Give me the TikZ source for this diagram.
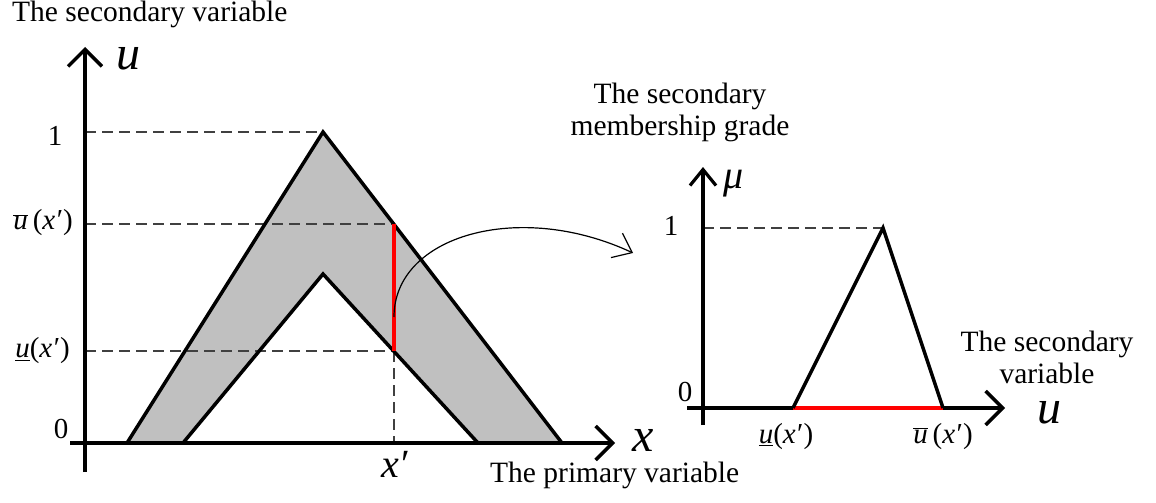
\documentclass[tikz,border=0pt]{standalone}
\usepackage{fontspec}
\setmainfont{Liberation Serif}[ItalicFont={Liberation Serif Italic}]
\usetikzlibrary{arrows.meta}
\definecolor{bandgray}{RGB}{192,192,192}
\definecolor{guidegray}{RGB}{64,64,64}
\definecolor{redline}{RGB}{255,0,0}
\newcommand{\uup}{$\overline{\mbox{\itshape u}}$}
\newcommand{\ulow}{\underline{\itshape u}}
\newcommand{\xp}{{\itshape x}\kern0.05em\char"2032}
\tikzset{
  axis/.style={line width=3.5pt, -{Straight Barb[length=17pt,width=34pt]}},
  smallaxis/.style={line width=3.2pt, -{Straight Barb[length=16pt,width=26pt]}},
  edge/.style={line width=3.5pt, line join=miter},
  redseg/.style={line width=3.5pt, draw=redline},
  guide/.style={line width=1.3pt, dash pattern=on 11pt off 6pt, draw=guidegray},
  curvearrow/.style={line width=1.2pt, -{Straight Barb[length=17pt,width=27pt]}},
  lbl/.style={inner sep=0pt, font=\fontsize{29.5}{32}\selectfont},
  tick/.style={inner sep=0pt, font=\fontsize{29}{32}\selectfont},
  var/.style={inner sep=0pt, font=\fontsize{48}{52}\selectfont\itshape},
  xlbl/.style={inner sep=0pt, font=\fontsize{40}{44}\selectfont},
  mulbl/.style={inner sep=0pt, font=\fontsize{40}{44}\selectfont\itshape}
}
\begin{document}
\begin{tikzpicture}[x=1pt,y=-1pt]
\useasboundingbox (0,0) rectangle (1156,503);
% ---- left plot coordinates
\coordinate (ytop) at (85,47);
\coordinate (ybot) at (85,472);
\coordinate (xl) at (70,443);
\coordinate (xr) at (615,443);
\coordinate (A) at (127,443);
\coordinate (P) at (323,132);
\coordinate (B) at (562,443);
\coordinate (C) at (478,443);
\coordinate (Q) at (323,274);
\coordinate (D) at (183,443);
\coordinate (U) at (394,224);
\coordinate (L) at (394,351);
\coordinate (X) at (394,443);
\coordinate (S) at (394,317);
\coordinate (T) at (633,253);
\coordinate (y1) at (85,132);
\coordinate (yU) at (85,224);
\coordinate (yL) at (85,351);
% band
\fill[fill=bandgray] (A)--(P)--(B)--(C)--(Q)--(D)--cycle;
\draw[guide] (y1)--(P);
\draw[guide] (yU)--(U);
\draw[guide] (yL)--(L);
\draw[guide] (L)--(X);
\draw[edge] (A)--(P)--(B);
\draw[edge] (D)--(Q)--(C);
\draw[redseg] (U)--(L);
\draw[axis] (ybot)--(ytop);
\draw[axis] (xl)--(xr);
\draw[curvearrow] (S) .. controls (394,235) and (520,200) .. (T);
% ---- left labels
\node[lbl, anchor=base west] (t1) at (12,22) {The secondary variable};
\node[var, anchor=base west] (lu) at (116,70) {u};
\node[var, anchor=base west] (lx) at (632,451) {x};
\node[tick, anchor=base] (l1) at (55,145) {1};
\node[tick, anchor=base] (l0) at (61,438) {0};
\node[tick, anchor=east] (lU) at (73,223) {\uup\,(\xp)};
\node[tick, anchor=east] (lL) at (70,351) {\ulow(\xp)};
\node[xlbl, anchor=base] (lxp) at (396,477) {\xp};
\node[lbl, anchor=base west] (t2) at (490,482) {The primary variable};
% ---- right plot coordinates
\coordinate (mtop) at (703,167);
\coordinate (mbot) at (703,425);
\coordinate (ul2) at (687,408);
\coordinate (ur2) at (1005,408);
\coordinate (E) at (793,408);
\coordinate (R) at (883,228);
\coordinate (F) at (943,408);
\coordinate (m1) at (703,228);
\draw[guide] (m1)--(R);
\draw[smallaxis] (mbot)--(mtop);
\draw[axis] (ul2)--(ur2);
\draw[redseg] (E)--(F);
\draw[edge] (E)--(R)--(F);
% ---- right labels
\node[lbl, align=center] (t3) at (680,112) {The secondary\\membership grade};
\node[mulbl, anchor=base west] (lmu) at (723,188) {μ};
\node[tick, anchor=base] (r1) at (671,235) {1};
\node[tick, anchor=base] (r0) at (685,401) {0};
\node[tick, anchor=base] (rL) at (786,443) {\ulow(\xp)};
\node[tick, anchor=base] (rU) at (943,443) {\uup\,(\xp)};
\node[var, anchor=base west] (ru) at (1037,423) {u};
\node[lbl, align=center] (t4) at (1047,357) {The secondary\\variable};
\end{tikzpicture}
\end{document}
